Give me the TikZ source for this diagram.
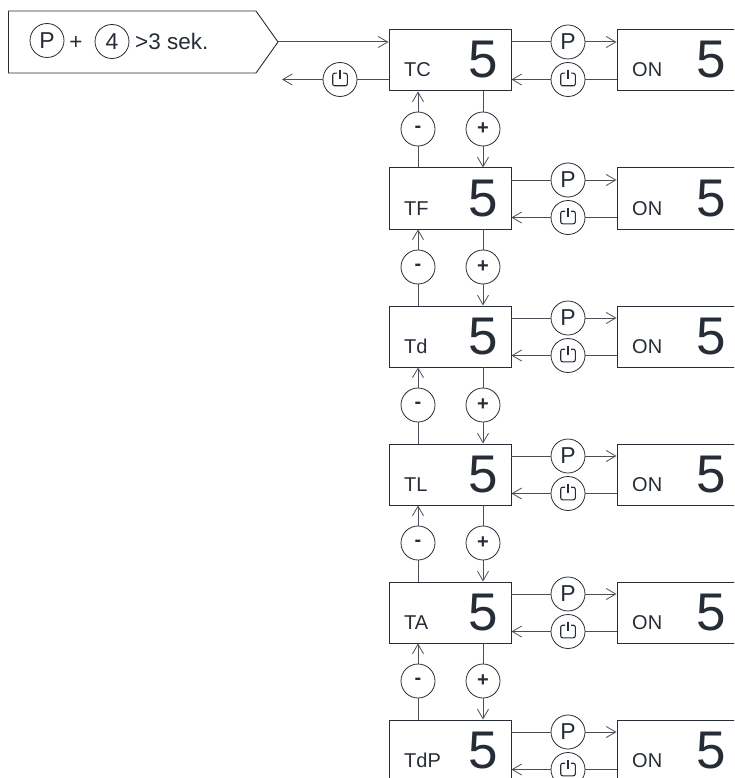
\documentclass[tikz,border=0pt]{standalone}
\usepackage{fontspec}
\setmainfont{Liberation Sans}
\usetikzlibrary{arrows.meta,calc}
\definecolor{ink}{HTML}{262D36}
\definecolor{wire}{HTML}{4A4F57}
\tikzset{
  x=1pt,y=-1pt,
  >={Straight Barb[length=9.5pt,width=11pt,line width=0.8pt]},
  box/.style={draw=ink,line width=0.9pt,fill=white,rectangle,inner sep=0pt,anchor=north west,minimum width=122pt,minimum height=61pt},
  onbox/.style={box,minimum width=160pt},
  key/.style={draw=ink,line width=0.8pt,fill=white,circle,inner sep=0pt,minimum size=34pt,text=ink,font=\fontsize{23}{23}\selectfont},
  smallkey/.style={key,font=\fontsize{20}{20}\bfseries\selectfont},
  wirepath/.style={draw=wire,line width=1pt},
  rowname/.style={anchor=base west,inner sep=0pt,text=ink,font=\fontsize{20}{20}\selectfont},
  digit/.style={anchor=base,inner sep=0pt,text=ink,font=\fontsize{53}{53}\selectfont},
  lead/.style={anchor=base west,inner sep=0pt,text=ink,font=\fontsize{22.5}{22.5}\selectfont},
}
\newcommand{\powericon}[1]{%
  \draw[ink,line width=1.1pt,rounded corners=2pt] ($(#1)+(-3,-6.3)$) -- ($(#1)+(-7.3,-6.3)$) -- ($(#1)+(-7.3,6.3)$) -- ($(#1)+(7.3,6.3)$) -- ($(#1)+(7.3,-6.3)$) -- ($(#1)+(3,-6.3)$);
  \draw[ink,line width=1.1pt] ($(#1)+(0,-9.5)$) -- ($(#1)+(0,-0.5)$);
}
\begin{document}
\begin{tikzpicture}
\useasboundingbox (0,0) rectangle (734,778);
\clip (0,0) rectangle (734,778);
\fill[white] (0,0) rectangle (734,778);
% entry pentagon
\coordinate (tip) at (278,42);
\draw[ink,line width=0.9pt,fill=white] (8.5,11) -- (256,11) -- (tip) -- (256,73) -- (8.5,73) -- cycle;
\node[key] (kp) at (47,40.5) {P};
\node[lead,anchor=base] (plus) at (76,50) {+};
\node[key] (k4) at (112,41.5) {4};
\node[lead] (sek) at (135,50) {>3 sek.};
% boxes
\foreach \i/\lab in {0/TC,1/TF,2/Td,3/TL,4/TA,5/TdP}{
  \pgfmathsetmacro{\yy}{29.5+138*\i}
  \node[box] (b\i) at (388.5,\yy) {};
  \node[onbox] (o\i) at (616.5,\yy) {};
  \node[rowname] (n\i) at (404,\yy+47.5) {\lab};
  \node[digit] (d\i) at (483.5,\yy+48.5) {5};
  \node[rowname] (t\i) at (632,\yy+47.5) {ON};
  \node[digit] (e\i) at (711.5,\yy+48.5) {5};
  \node[key] (p\i) at (568,\yy+12.5) {P};
  \node[key] (w\i) at (568,\yy+50) {};
  \powericon{w\i}
  \draw[wirepath] (b\i.east |- p\i) -- (p\i);
  \draw[wirepath,->] (p\i) -- (o\i.west |- p\i);
  \draw[wirepath] (o\i.west |- w\i) -- (w\i);
  \draw[wirepath,->] (w\i) -- (b\i.east |- w\i);
}
% vertical links
\foreach \i/\j in {0/1,1/2,2/3,3/4,4/5}{
  \pgfmathsetmacro{\yy}{129+138*\i}
  \node[smallkey] (m\i) at (418,\yy) {-};
  \node[smallkey] (a\i) at (483,\yy) {+};
  \draw[wirepath,->] (m\i) -- (b\i.south -| m\i);
  \draw[wirepath] (m\i) -- (b\j.north -| m\i);
  \draw[wirepath] (b\i.south -| a\i) -- (a\i);
  \draw[wirepath,->] (a\i) -- (b\j.north -| a\i);
}
% entry and exit
\draw[wirepath,->] (tip) -- (b0.west |- tip);
\node[key] (x) at (340,79.5) {};
\powericon{x}
\coordinate (out) at (282,79.5);
\draw[wirepath] (b0.west |- x) -- (x);
\draw[wirepath,->] (x) -- (out);
\end{tikzpicture}
\end{document}
